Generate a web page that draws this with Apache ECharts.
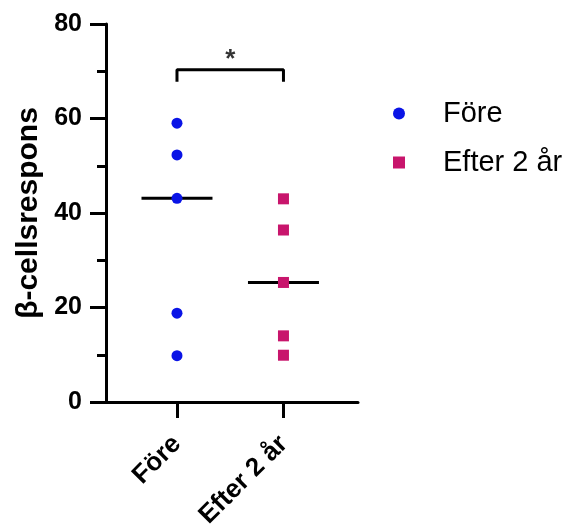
<!DOCTYPE html>
<html>
<head>
<meta charset="utf-8">
<script src="https://cdn.jsdelivr.net/npm/echarts@6/dist/echarts.min.js"></script>
<style>html,body{margin:0;padding:0;background:#fff}#c{width:576px;height:532px}</style>
</head>
<body>
<div id="c"></div>
<script>
const categories = ['Före', 'Efter 2 år'];
const catX = [2, 5];
const foreValues = [59, 52.3, 43.1, 18.8, 9.8];
const efterValues = [43, 36.4, 25.3, 14, 9.9];
const medians = [43.1, 25.3];
const bracketTop = 70.3;
const bracketBottom = 67.8;
const starY = 72.4;
const yTicks = [0, 20, 40, 60, 80];
const yAxisName = 'β-cellsrespons';

const FONT = '"Liberation Sans", Arial, sans-serif';
const blue = '#0a14e6';
const pink = '#c8156c';

const chart = echarts.init(document.getElementById('c'));
const medianSeries = medians.map((m, i) => ({
  type: 'line', data: [[catX[i] - 1, m], [catX[i] + 1, m]],
  symbol: 'none', lineStyle: { color: '#000', width: 3 }, z: 1, silent: true
}));
chart.setOption({
  animation: false,
  grid: { left: 106, top: 24, right: 218, bottom: 130, containLabel: false },
  xAxis: {
    type: 'value', min: 0, max: 7.1,
    splitLine: { show: false },
    axisLine: { lineStyle: { color: '#000', width: 3 } },
    axisTick: { show: true, customValues: catX, length: 16, lineStyle: { color: '#000', width: 3 } },
    axisLabel: {
      customValues: catX, rotate: 45, margin: 38,
      formatter: v => categories[catX.indexOf(v)] || '',
      fontFamily: FONT, fontSize: 26, fontWeight: 'bold', color: '#000'
    }
  },
  yAxis: {
    type: 'value', min: yTicks[0], max: yTicks[yTicks.length - 1], interval: 20,
    name: yAxisName, nameLocation: 'middle', nameGap: 62,
    nameTextStyle: { fontFamily: FONT, fontSize: 30, fontWeight: 'bold', color: '#000' },
    splitLine: { show: false },
    axisLine: { show: true, lineStyle: { color: '#000', width: 3 } },
    axisTick: { show: true, length: 16, lineStyle: { color: '#000', width: 3 } },
    minorTick: { show: true, splitNumber: 2, length: 9, lineStyle: { color: '#000', width: 3 } },
    axisLabel: { margin: 24, fontFamily: FONT, fontSize: 25, fontWeight: 'bold', color: '#000' }
  },
  legend: {
    data: [{ name: categories[0], icon: 'circle' }, { name: categories[1], icon: 'rect' }],
    orient: 'vertical', left: 388, top: 94, itemWidth: 12, itemHeight: 12, itemGap: 20,
    textStyle: { fontFamily: FONT, fontSize: 29, color: '#000', padding: [0, 0, 0, 33] }
  },
  series: [
    ...medianSeries,
    {
      name: categories[0], type: 'scatter', symbol: 'circle', symbolSize: 11,
      data: foreValues.map(v => [catX[0], v]), itemStyle: { color: blue, opacity: 1 }, z: 3
    },
    {
      name: categories[1], type: 'scatter', symbol: 'rect', symbolSize: 11,
      data: efterValues.map(v => [catX[1], v]), itemStyle: { color: pink, opacity: 1 }, z: 3
    },
    {
      type: 'line', data: [[catX[0], bracketBottom], [catX[0], bracketTop], [catX[1], bracketTop], [catX[1], bracketBottom]],
      symbol: 'none', lineStyle: { color: '#000', width: 3 }, silent: true
    },
    {
      type: 'scatter', data: [[(catX[0] + catX[1]) / 2, starY]], symbolSize: 0, silent: true,
      label: { show: true, position: 'inside', formatter: '*', fontFamily: FONT, fontSize: 26, fontWeight: 'bold', color: '#000' }
    }
  ]
});
</script>
</body>
</html>
